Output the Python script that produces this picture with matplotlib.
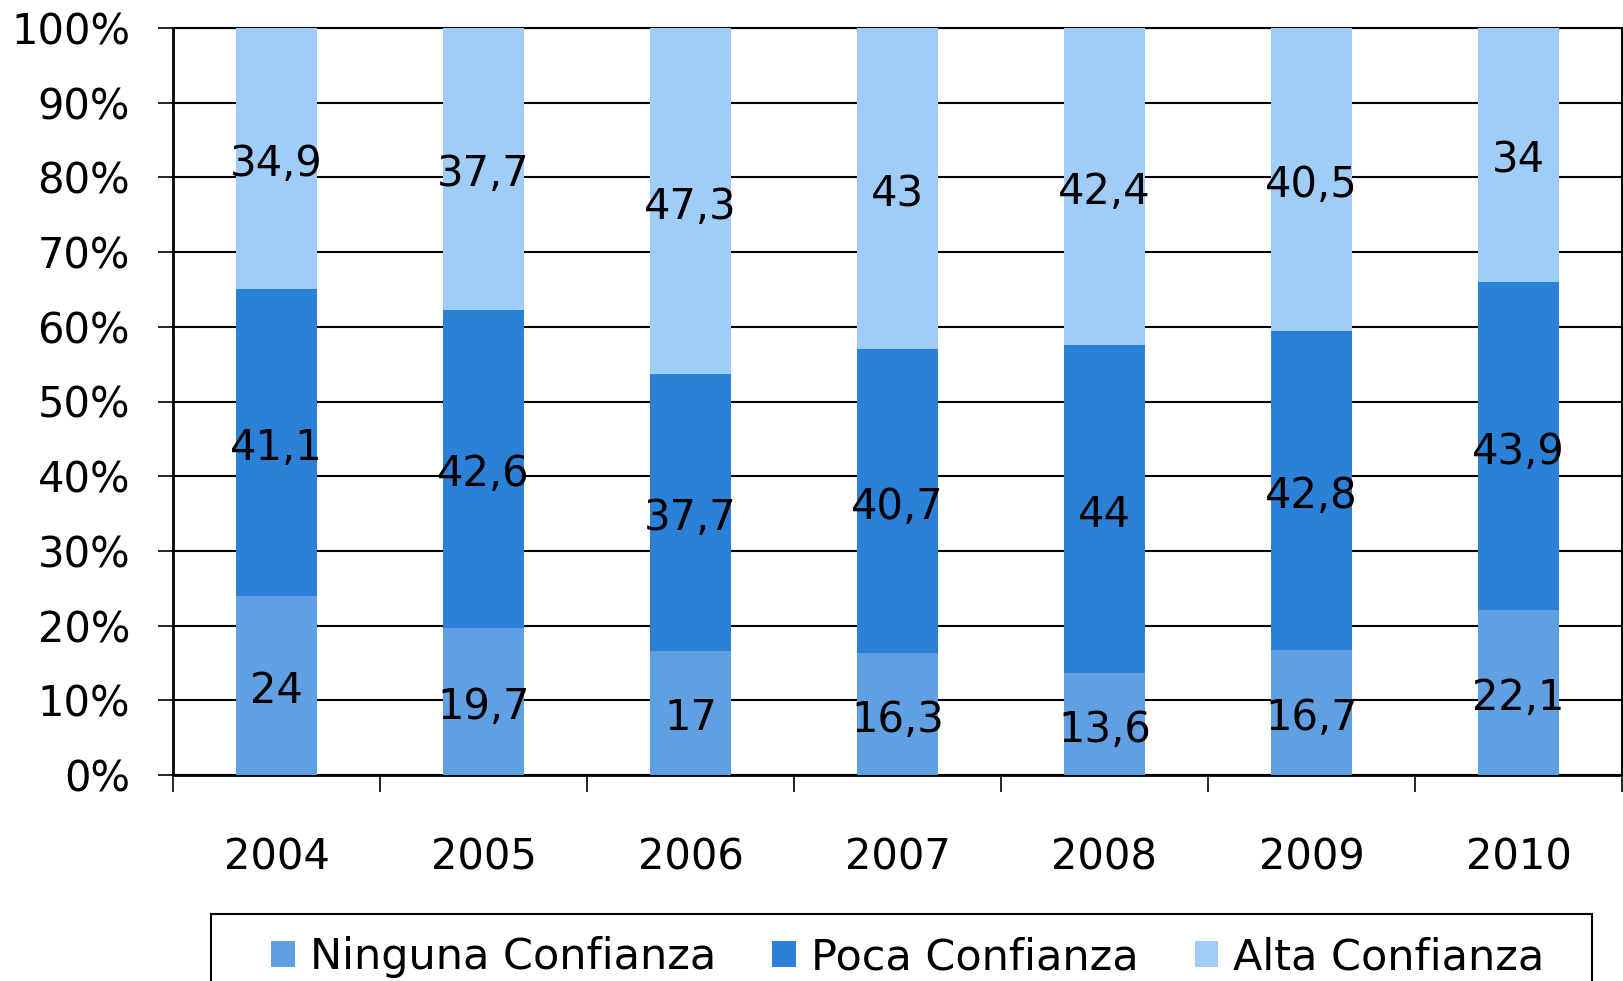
import numpy as np
import matplotlib.pyplot as plt
from matplotlib.patches import Rectangle
from matplotlib.ticker import FixedLocator, FuncFormatter

# datos
years = ['2004', '2005', '2006', '2007', '2008', '2009', '2010']
ninguna = [24, 19.7, 17, 16.3, 13.6, 16.7, 22.1]
poca = [41.1, 42.6, 37.7, 40.7, 44, 42.8, 43.9]
alta = [34.9, 37.7, 47.3, 43, 42.4, 40.5, 34]
series_names = ['Ninguna Confianza', 'Poca Confianza', 'Alta Confianza']
colors = ['#5f9fe2', '#2b80d8', '#a0ccf8']

plt.rcParams['font.family'] = ['DejaVu Sans']

fig = plt.figure(figsize=(16.23, 9.81), dpi=100)
ax = fig.add_axes([173 / 1623, 1 - 775 / 981, 1449 / 1623, 747 / 981])

data = np.array([ninguna, poca, alta], dtype=float)
totals = data.sum(axis=0)
pct = data / totals * 100

x = np.arange(len(years))
bottom = np.zeros(len(years))
for i in range(3):
    ax.bar(x, pct[i], width=0.39, bottom=bottom, color=colors[i],
           label=series_names[i], zorder=3)
    for j in range(len(years)):
        txt = ('%g' % data[i][j]).replace('.', ',')
        ax.annotate(txt, (x[j], bottom[j] + pct[i][j] / 2), xytext=(0, -4),
                    textcoords='offset points', ha='center', va='center',
                    fontsize=30, color='black', zorder=4)
    bottom += pct[i]

ax.set_xlim(-0.5, len(years) - 0.5)
ax.set_ylim(0, 100)

# rejilla y ejes
ax.set_yticks(np.arange(0, 101, 10))
ax.yaxis.set_major_formatter(FuncFormatter(lambda v, p: '%d%%' % v))
ax.yaxis.grid(True, color='black', linewidth=1.5, zorder=0)
ax.tick_params(axis='y', direction='out', length=11, width=1.2, pad=20,
               labelsize=30)

ax.set_xticks(x)
ax.set_xticklabels(years)
ax.tick_params(axis='x', which='major', length=0, pad=44, labelsize=30)
ax.xaxis.set_minor_locator(FixedLocator(np.arange(-0.5, len(years), 1)))
ax.tick_params(axis='x', which='minor', direction='out', length=12, width=1.2)

for s in ax.spines.values():
    s.set_color('black')
    s.set_linewidth(1.5)
ax.spines['left'].set_linewidth(2)
ax.spines['bottom'].set_linewidth(2)

# leyenda (marco dibujado aparte, se corta por abajo)
fig.patches.append(Rectangle((211 / 1623, -0.05), 1381 / 1623, (1 - 914 / 981) + 0.05,
                             transform=fig.transFigure, fill=False,
                             edgecolor='black', linewidth=1.5))
leg = fig.legend(loc='center', ncol=3,
                 bbox_to_anchor=(908 / 1623, 1 - 957 / 981),
                 fontsize=31, frameon=False,
                 handlelength=0.55, handleheight=0.55, handletextpad=0.35,
                 columnspacing=1.3, borderpad=0, borderaxespad=0)

fig.savefig('out.png', dpi=100)
